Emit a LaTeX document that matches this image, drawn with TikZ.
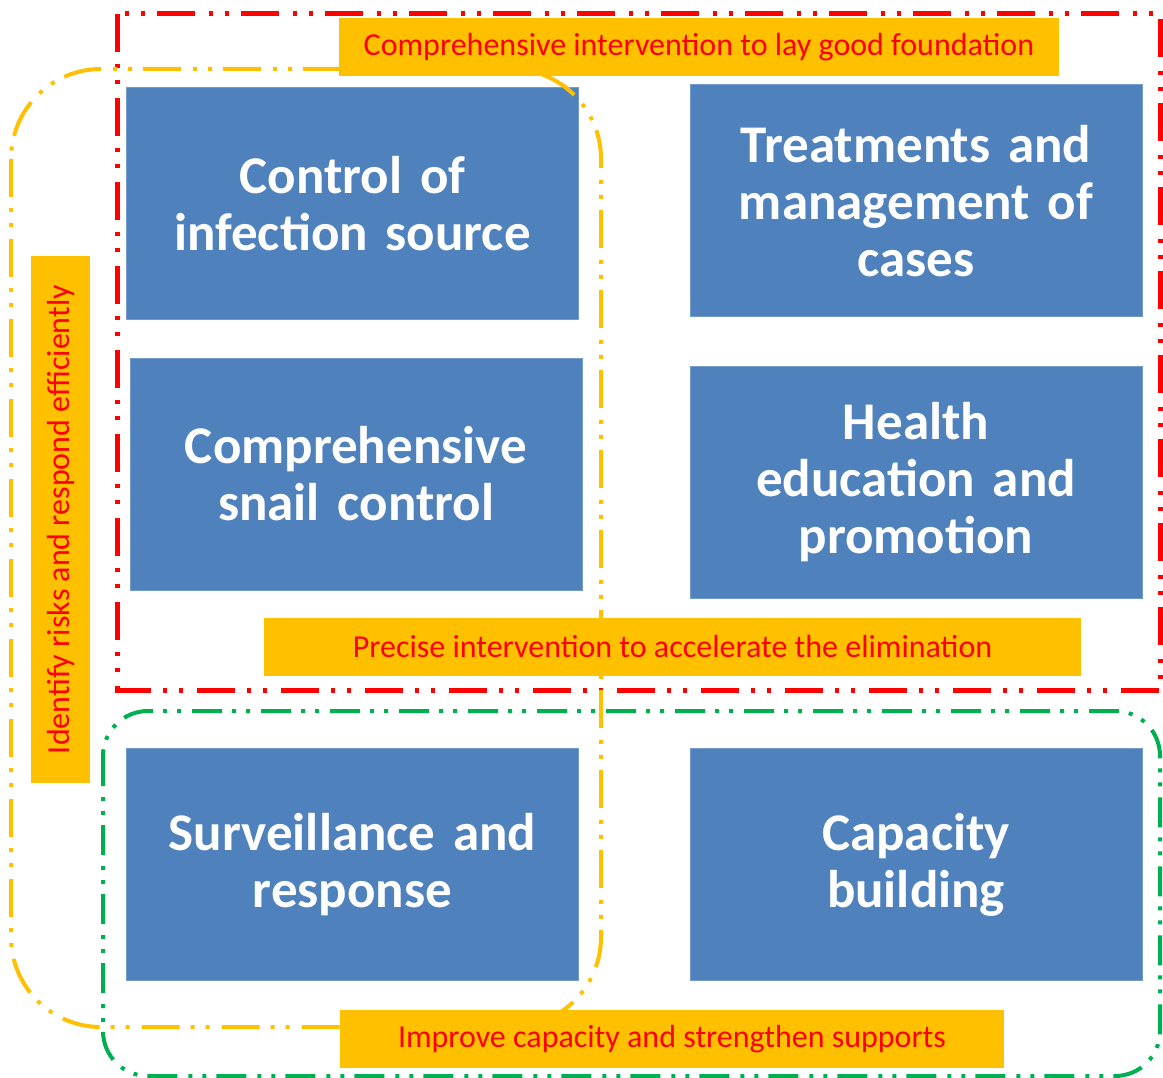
\documentclass[tikz,border=0pt]{standalone}
\usepackage{fontspec}
\setmainfont{Carlito}
\usepackage{xcolor}
\usetikzlibrary{positioning}

\definecolor{boxblue}{HTML}{4F81BD}
\definecolor{tagyellow}{HTML}{FFC000}
\definecolor{loopgreen}{HTML}{00B050}

\tikzset{
	measure/.style={fill=boxblue, draw=boxblue!80!white, line width=1pt,
		minimum width=452pt, minimum height=232pt, text width=446pt,
		align=center, inner sep=0pt, text=white,
		font=\fontsize{53}{57}\selectfont\bfseries},
	tag/.style={fill=tagyellow, text=red, inner sep=0pt, minimum height=58pt,
		font=\fontsize{32}{38}\selectfont},
	dashdotdot/.style={dash pattern=on 38pt off 12pt on 4pt off 12pt on 4pt off 14pt},
}

\begin{document}
\begin{tikzpicture}[x=1pt, y=-1pt]
	\useasboundingbox (0,0) rectangle (1163,1078);
	
	% Six intervention measures
	\node[measure] (source) at (352.5,204) {Control of\\infection source};
	\node[measure] (cases) at (916,201) {Treatments and\\management of\\cases};
	\node[measure] (snail) at (356,474) {Comprehensive\\snail control};
	\node[measure] (education) at (916,482.5) {Health\\education and\\promotion};
	\node[measure] (surveillance) at (352.5,864.5) {Surveillance and\\response};
	\node[measure] (capacity) at (916,864.5) {Capacity\\building};
	
	% Group outlines
	\draw[red, line width=5pt, dashdotdot] (117,14) rectangle (1160,690);
	\draw[loopgreen, line width=4pt, rounded corners=45pt,
		dash pattern=on 30pt off 11pt on 4pt off 10pt on 4pt off 10pt]
		(103,711) rectangle (1160,1076);
	\draw[tagyellow, line width=4pt, rounded corners=90pt,
		dash pattern=on 38pt off 11pt on 4pt off 11pt on 4pt off 12pt]
		(11,69) rectangle (601,1027);
	
	% Group labels
	\node[tag, minimum width=720pt] (foundation) at (699,47)
		{Comprehensive intervention to lay good foundation};
	\node[tag, minimum width=817pt] (elimination) at (672.5,647)
		{Precise intervention to accelerate the elimination};
	\node[tag, minimum width=664pt] (supports) at (672,1039)
		{Improve capacity and strengthen supports};
	\node[tag, minimum width=527pt, minimum height=59pt, rotate=90] (risks) at (60.5,519.5)
		{Identify risks and respond efficiently};
\end{tikzpicture}
\end{document}
